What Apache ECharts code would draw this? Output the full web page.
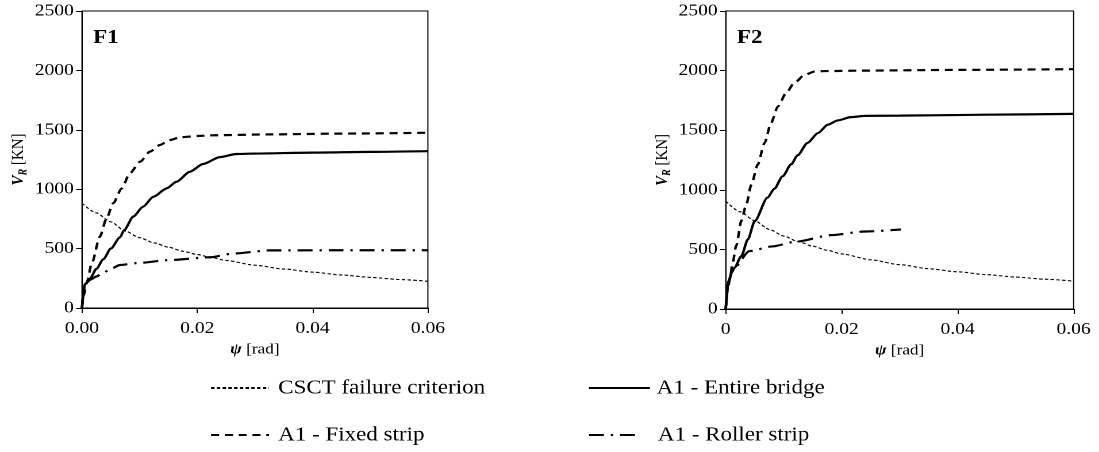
<!DOCTYPE html>
<html>
<head>
<meta charset="utf-8">
<script src="https://cdn.jsdelivr.net/npm/echarts@6/dist/echarts.min.js"></script>
<style>
html,body{margin:0;padding:0;background:#fff;overflow:hidden;}
#c{width:956px;height:452px;transform:scaleX(1.1496);transform-origin:0 0;}
</style>
</head>
<body>
<div id="c"></div>
<script>
// ---- data (psi [rad], V_R [kN]) ----
const f1Csct = [[0,882],[0.0025,800],[0.005,725],[0.0075,648],[0.01,592],[0.0125,548],[0.015,512],[0.0175,478],[0.02,450],[0.0225,424],[0.025,400],[0.03,360],[0.035,328],[0.04,302],[0.045,278],[0.05,258],[0.055,240],[0.06,225]];
const f1Entire = [[0,0],[0.0002,120],[0.0005,200],[0.0014,248],[0.0025,330],[0.0037,410],[0.005,500],[0.0066,595],[0.0073,655],[0.0089,769],[0.0106,853],[0.0124,937],[0.0147,1007],[0.0164,1063],[0.0187,1147],[0.021,1212],[0.0239,1270],[0.0268,1296],[0.03,1300],[0.04,1308],[0.05,1314],[0.06,1320]];
const f1Fixed = [[0,0],[0.0003,110],[0.0008,208],[0.0017,376],[0.0031,600],[0.0043,760],[0.0054,881],[0.0069,1007],[0.0083,1134],[0.0101,1232],[0.0118,1316],[0.0135,1372],[0.0153,1414],[0.017,1437],[0.0204,1449],[0.0228,1454],[0.032,1461],[0.045,1468],[0.06,1475]];
const f1Roller = [[0,0],[0.0005,200],[0.0008,215],[0.0015,240],[0.0025,265],[0.0035,290],[0.005,330],[0.0066,362],[0.0095,378],[0.0153,404],[0.0222,427],[0.0262,458],[0.0326,485],[0.045,486],[0.06,486]];

const f2Csct = [[0,905],[0.0025,815],[0.005,740],[0.0075,668],[0.01,612],[0.0125,565],[0.015,527],[0.0175,493],[0.02,462],[0.025,413],[0.03,372],[0.035,338],[0.04,312],[0.045,288],[0.05,268],[0.055,250],[0.06,234]];
const f2Entire = [[0,0],[0.00024,165],[0.0005,235],[0.001,305],[0.0015,346],[0.0027,444],[0.0038,583],[0.005,737],[0.0072,935],[0.0084,1010],[0.0098,1113],[0.0113,1215],[0.0124,1290],[0.0141,1393],[0.0159,1476],[0.0176,1546],[0.0193,1582],[0.0216,1610],[0.024,1620],[0.03,1622],[0.045,1630],[0.06,1637]];
const f2Fixed = [[0,0],[0.0003,150],[0.0007,250],[0.0012,390],[0.0018,530],[0.0027,740],[0.0035,870],[0.0044,1040],[0.0055,1210],[0.0067,1393],[0.0078,1560],[0.009,1699],[0.0104,1811],[0.0118,1895],[0.0136,1964],[0.0153,1992],[0.017,1996],[0.024,2000],[0.04,2006],[0.06,2012]];
const f2Roller = [[0,0],[0.0005,230],[0.0012,330],[0.0041,486],[0.008,525],[0.0121,565],[0.0182,620],[0.0239,650],[0.0302,667]];

const seriesNames = ['CSCT failure criterion','A1 - Entire bridge','A1 - Fixed strip','A1 - Roller strip'];
const panelLabels = ['F1','F2'];
const f1XTicks = ['0.00','0.02','0.04','0.06'];
const f2XTicks = ['0','0.02','0.04','0.06'];
const yTicks = ['0','500','1000','1500','2000','2500'];

// ---- styling ----
const FONT = "Liberation Serif";
const styles = [
  {width:1.1, type:[3,2]},
  {width:2.2, type:'solid'},
  {width:2.2, type:[7,5]},
  {width:2.2, type:[13,6,2,6]}
];

function xAxis(gi, ticks){
  return {
    type:'value', gridIndex:gi, min:0, max:0.06, interval:0.02,
    axisLine:{show:true, lineStyle:{color:'#000', width:1}},
    axisTick:{show:true, inside:false, length:5, lineStyle:{color:'#000'}},
    splitLine:{show:false},
    axisLabel:{margin:12, fontFamily:FONT, fontSize:17, color:'#000',
      formatter:function(v){return ticks[Math.round(v/0.02)];}},
    name:'{p|ψ} [rad]', nameLocation:'middle', nameGap:31,
    nameTextStyle:{fontFamily:FONT, fontSize:15, color:'#000',
      rich:{p:{fontFamily:FONT, fontSize:15, fontWeight:'bold', fontStyle:'italic', color:'#000'}}}
  };
}
function yAxis(gi){
  return {
    type:'value', gridIndex:gi, min:0, max:2500, interval:500,
    axisLine:{show:true, lineStyle:{color:'#000', width:1}},
    axisTick:{show:true, inside:false, length:5, lineStyle:{color:'#000'}},
    splitLine:{show:false},
    axisLabel:{margin:7, fontFamily:FONT, fontSize:17, color:'#000',
      formatter:function(v){return yTicks[Math.round(v/500)];}},
    name:'{v|V}{r|R} [KN]', nameLocation:'middle', nameGap:46, nameRotate:90,
    nameTextStyle:{fontFamily:FONT, fontSize:15, color:'#000', lineHeight:18,
      rich:{
        v:{fontFamily:FONT, fontSize:15, fontWeight:'bold', fontStyle:'italic', color:'#000', lineHeight:18},
        r:{fontFamily:FONT, fontSize:10, fontWeight:'bold', fontStyle:'italic', color:'#000', lineHeight:10, verticalAlign:'bottom'}
      }}
  };
}
function mk(name, data, gi, st){
  return {type:'line', name:name, data:data, xAxisIndex:gi, yAxisIndex:gi,
    symbol:'none', smooth:0.25, smoothMonotone:'x', animation:false,
    lineStyle:{color:'#000', width:st.width, type:st.type}, itemStyle:{color:'#000'}};
}
function lg(name, left, top, w, pad){
  return {data:[name], left:left, top:top, itemWidth:w, itemHeight:14, itemGap:0, padding:0,
    selectedMode:false,
    itemStyle:{color:'transparent', borderColor:'transparent', borderWidth:0, opacity:0},
    textStyle:{fontFamily:FONT, fontSize:20, color:'#000', lineHeight:24, padding:[0,0,0,pad]}};
}

const chart = echarts.init(document.getElementById('c'), null, {renderer:'canvas', devicePixelRatio:2});
chart.setOption({
  backgroundColor:'#fff',
  animation:false,
  textStyle:{fontFamily:FONT},
  grid:[
    {left:71.3, right:583.8, top:11, bottom:144, show:true, borderColor:'#000', borderWidth:1, backgroundColor:'transparent', containLabel:false},
    {left:631.3, right:22.1, top:11, bottom:143, show:true, borderColor:'#000', borderWidth:1, backgroundColor:'transparent', containLabel:false}
  ],
  xAxis:[xAxis(0,f1XTicks), xAxis(1,f2XTicks)],
  yAxis:[yAxis(0), yAxis(1)],
  legend:[
    lg(seriesNames[0], 182.6, 376, 50.4, 3),
    lg(seriesNames[1], 511.3, 376, 53, 1),
    lg(seriesNames[2], 182.6, 423, 50.4, 3),
    lg(seriesNames[3], 511.3, 423, 43.5, 11.5)
  ],
  graphic:[
    {type:'text', left:81, top:28, style:{text:panelLabels[0], fontFamily:FONT, fontSize:20, fontWeight:'bold', fill:'#000'}},
    {type:'text', left:641, top:28, style:{text:panelLabels[1], fontFamily:FONT, fontSize:20, fontWeight:'bold', fill:'#000'}}
  ],
  series:[
    mk(seriesNames[0], f1Csct, 0, styles[0]),
    mk(seriesNames[1], f1Entire, 0, styles[1]),
    mk(seriesNames[2], f1Fixed, 0, styles[2]),
    mk(seriesNames[3], f1Roller, 0, styles[3]),
    mk(seriesNames[0], f2Csct, 1, styles[0]),
    mk(seriesNames[1], f2Entire, 1, styles[1]),
    mk(seriesNames[2], f2Fixed, 1, styles[2]),
    mk(seriesNames[3], f2Roller, 1, styles[3])
  ]
});
</script>
</body>
</html>
